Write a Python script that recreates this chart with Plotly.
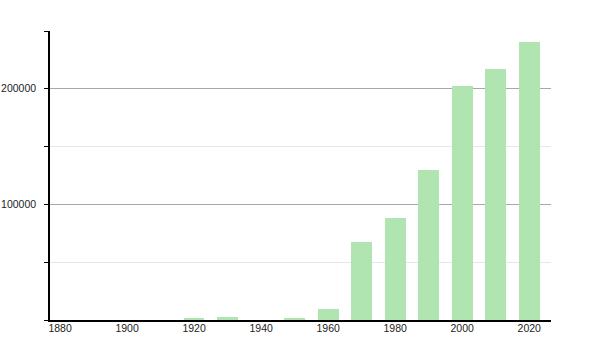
import plotly.graph_objects as go

years = [1880, 1890, 1900, 1910, 1920, 1930, 1940, 1950, 1960, 1970, 1980, 1990, 2000, 2010, 2020]
population = [0, 0, 0, 0, 1000, 2800, 0, 2000, 9700, 67500, 88000, 129600, 202800, 217200, 240800]
x_tick_years = [1880, 1900, 1920, 1940, 1960, 1980, 2000, 2020]
y_tick_vals = [100000, 200000]

fig = go.Figure()
fig.add_trace(go.Bar(
    x=years, y=population, width=6.2,
    marker=dict(color="rgb(176,228,176)", line=dict(width=0)),
    hoverinfo="x+y",
))

fig.update_layout(
    width=600, height=350,
    margin=dict(l=50, r=49, t=31, b=30),
    paper_bgcolor="white", plot_bgcolor="white",
    font=dict(family="Liberation Sans, Arial, sans-serif", size=10.5, color="#222"),
    showlegend=False,
    bargap=0,
)
fig.update_xaxes(
    range=[1877, 2026.5],
    tickvals=x_tick_years, ticktext=[str(v) for v in x_tick_years],
    showgrid=False, zeroline=False,
    showline=True, linecolor="black", linewidth=1.5,
    ticks="", ticklabelstandoff=-2, automargin=False,
)
fig.update_yaxes(
    range=[0, 250000],
    tickvals=y_tick_vals, ticktext=[str(v) for v in y_tick_vals],
    showgrid=True, gridcolor="#a8a8a8", gridwidth=1,
    zeroline=False,
    showline=True, linecolor="black", linewidth=1.5,
    ticks="outside", ticklen=4, tickcolor="black", tickwidth=1,
    ticklabelstandoff=6, automargin=False,
    minor=dict(dtick=50000, tick0=0, showgrid=True, gridcolor="#e6e6e6",
               ticks="outside", ticklen=4, tickcolor="black"),
)

fig.write_html("out.html")
